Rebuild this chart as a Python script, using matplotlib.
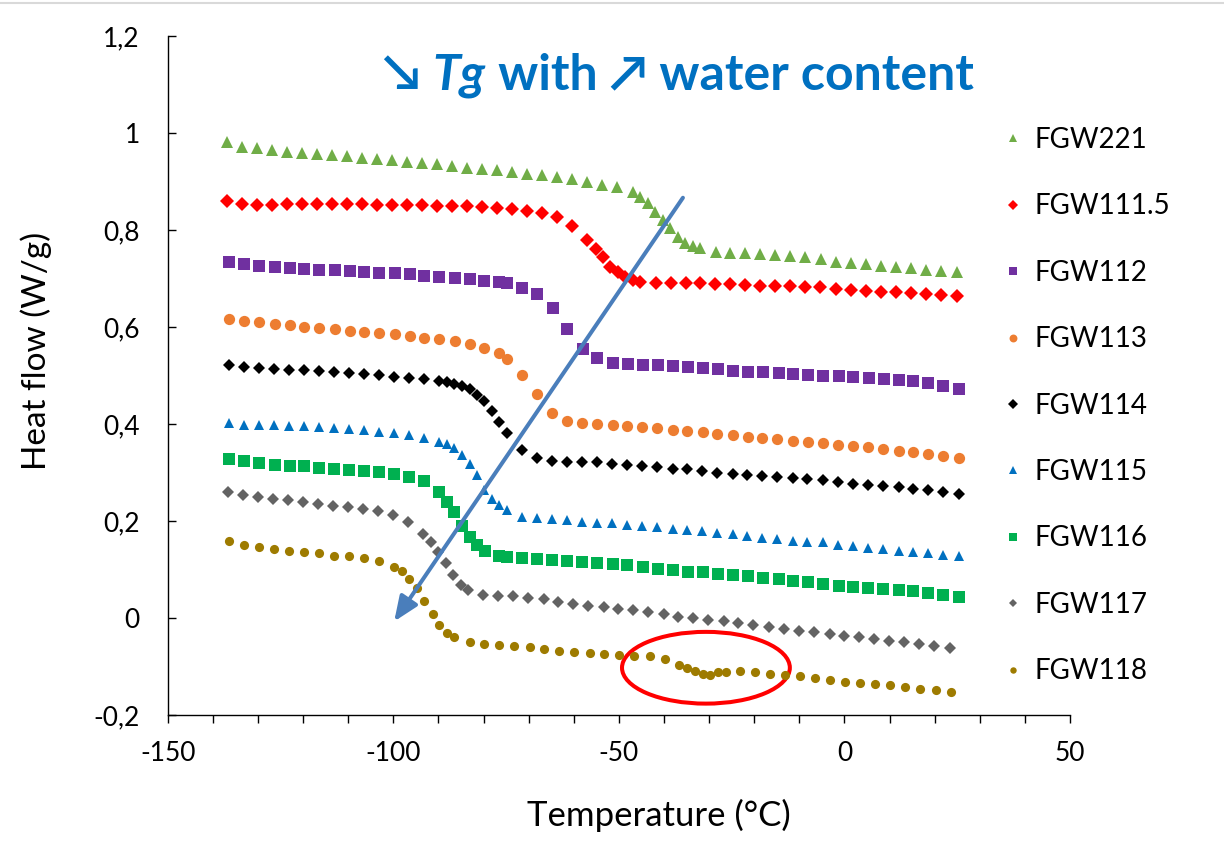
import matplotlib.pyplot as plt
from matplotlib.patches import Ellipse
from matplotlib.lines import Line2D
from matplotlib.ticker import MultipleLocator, FuncFormatter

plt.rcParams['font.family'] = ['Lato', 'DejaVu Sans']

# DSC heat flow (W/g) against temperature (°C) for each sample
t_221 = [-136.9, -133.6, -130.2, -126.9, -123.6, -120.3, -116.9, -113.6, -110.3, -107.0,
         -103.7, -100.3, -97.0, -93.7, -90.4, -87.0, -83.7, -80.4, -77.1, -73.7,
         -70.4, -67.1, -63.8, -60.4, -57.1, -53.8, -50.5,
         -46.9, -45.3, -43.6, -42.0, -40.3, -38.7, -37.0, -35.3, -33.6, -32.0,
         -28.5, -25.3, -22.0, -18.7, -15.3, -12.0, -8.7, -5.2, -1.9, 1.4,
         4.7, 8.1, 11.4, 14.8, 18.1, 21.4, 24.9]
hf_221 = [0.981, 0.972, 0.969, 0.966, 0.962, 0.960, 0.958, 0.955, 0.953, 0.950,
          0.946, 0.944, 0.941, 0.939, 0.936, 0.933, 0.929, 0.926, 0.924, 0.921,
          0.917, 0.914, 0.909, 0.905, 0.899, 0.894, 0.889,
          0.878, 0.868, 0.856, 0.838, 0.821, 0.804, 0.786, 0.774, 0.768, 0.763,
          0.756, 0.754, 0.753, 0.751, 0.748, 0.746, 0.744, 0.740, 0.735, 0.733,
          0.730, 0.727, 0.725, 0.723, 0.718, 0.716, 0.713]

t_1115 = [-136.9, -133.6, -130.2, -126.9, -123.6, -120.3, -116.9, -113.6, -110.3, -107.0,
          -103.7, -100.3, -97.0, -93.7, -90.4, -87.0, -83.7, -80.4, -77.1, -73.7,
          -70.4, -67.1, -63.8, -60.4, -57.1,
          -55.1, -53.6, -51.9, -50.3, -48.6, -46.9, -45.3,
          -41.8, -38.5, -35.2, -32.0, -28.6, -25.3, -22.0, -18.7, -15.4, -12.0,
          -8.7, -5.4, -1.9, 1.4, 4.8, 8.1, 11.4, 14.8, 18.1, 21.4, 24.9]
hf_1115 = [0.861, 0.854, 0.852, 0.852, 0.854, 0.854, 0.854, 0.854, 0.854, 0.854,
           0.852, 0.852, 0.852, 0.852, 0.851, 0.850, 0.849, 0.847, 0.846, 0.844,
           0.840, 0.836, 0.827, 0.809, 0.779,
           0.761, 0.744, 0.725, 0.713, 0.703, 0.698, 0.694,
           0.692, 0.692, 0.692, 0.691, 0.689, 0.689, 0.687, 0.686, 0.686, 0.684,
           0.682, 0.682, 0.679, 0.677, 0.675, 0.673, 0.672, 0.670, 0.669, 0.667, 0.665]

t_112 = [-136.3, -133.0, -129.7, -126.3, -123.0, -119.7, -116.4, -113.0, -109.7, -106.4,
         -103.1, -99.7, -96.4, -93.1, -89.8, -86.4, -83.1, -79.8, -76.5,
         -74.8, -71.4, -68.1, -64.7, -61.4, -58.0, -54.8, -51.4, -48.0, -44.7,
         -41.4, -38.1, -34.7, -31.4, -28.1, -24.8, -21.3, -18.0, -14.6, -11.3,
         -8.0, -4.7, -1.3, 2.0, 5.5, 8.8, 12.0, 15.3, 18.5, 21.9, 25.3]
hf_112 = [0.735, 0.730, 0.727, 0.724, 0.722, 0.720, 0.718, 0.717, 0.715, 0.713,
          0.711, 0.711, 0.709, 0.706, 0.704, 0.702, 0.699, 0.696, 0.693,
          0.691, 0.680, 0.669, 0.640, 0.596, 0.555, 0.537, 0.527, 0.524, 0.522,
          0.521, 0.519, 0.517, 0.515, 0.513, 0.510, 0.508, 0.507, 0.505, 0.504,
          0.502, 0.500, 0.499, 0.498, 0.495, 0.493, 0.491, 0.489, 0.484, 0.478, 0.472]

t_113 = [-136.3, -133.0, -129.7, -126.3, -123.0, -119.7, -116.4, -113.0, -109.7, -106.4,
         -103.1, -99.7, -96.4, -93.1, -89.8, -86.4, -83.1, -79.8, -76.5,
         -74.8, -71.4, -68.2, -64.8, -61.5, -58.2, -54.8, -51.4, -48.1, -44.8,
         -41.5, -38.0, -34.8, -31.4, -28.2, -24.7, -21.4, -18.2, -14.9, -11.3,
         -8.0, -4.7, -1.4, 2.0, 5.3, 8.6, 12.0, 15.3, 18.6, 21.9, 25.3]
hf_113 = [0.616, 0.612, 0.610, 0.607, 0.605, 0.601, 0.598, 0.596, 0.593, 0.591,
          0.589, 0.586, 0.581, 0.577, 0.575, 0.572, 0.566, 0.558, 0.546,
          0.534, 0.502, 0.462, 0.423, 0.407, 0.402, 0.400, 0.399, 0.396, 0.395,
          0.392, 0.388, 0.386, 0.383, 0.380, 0.378, 0.374, 0.372, 0.370, 0.366,
          0.363, 0.361, 0.357, 0.354, 0.352, 0.349, 0.345, 0.342, 0.339, 0.335, 0.331]

t_114 = [-136.4, -133.1, -129.8, -126.4, -123.1, -119.8, -116.5, -113.1, -109.8, -106.5,
         -103.1, -99.8, -96.5, -93.2,
         -89.8, -88.2, -86.5, -84.8, -83.1, -81.5, -79.9, -78.2, -76.5, -74.7,
         -71.5, -68.2, -64.9, -61.5, -58.2, -54.9, -51.6, -48.2, -44.9, -41.5,
         -38.0, -34.8, -31.5, -28.2, -24.8, -21.5, -18.2, -14.9, -11.4, -8.2,
         -4.8, -1.5, 1.9, 5.2, 8.5, 12.0, 15.3, 18.6, 21.9, 25.3]
hf_114 = [0.521, 0.517, 0.515, 0.514, 0.512, 0.511, 0.509, 0.507, 0.505, 0.503,
          0.502, 0.498, 0.496, 0.493,
          0.488, 0.486, 0.483, 0.479, 0.472, 0.460, 0.447, 0.427, 0.405, 0.381,
          0.346, 0.331, 0.323, 0.322, 0.322, 0.321, 0.318, 0.316, 0.314, 0.311,
          0.308, 0.307, 0.304, 0.300, 0.298, 0.295, 0.293, 0.291, 0.289, 0.287,
          0.284, 0.280, 0.277, 0.275, 0.273, 0.270, 0.267, 0.265, 0.260, 0.256]

t_115 = list(t_114)
hf_115 = [0.402, 0.399, 0.399, 0.399, 0.397, 0.396, 0.394, 0.392, 0.390, 0.387,
          0.383, 0.381, 0.377, 0.372,
          0.364, 0.359, 0.351, 0.337, 0.318, 0.295, 0.265, 0.245, 0.234, 0.223,
          0.209, 0.206, 0.204, 0.203, 0.199, 0.197, 0.196, 0.192, 0.189, 0.187,
          0.184, 0.181, 0.179, 0.175, 0.173, 0.170, 0.165, 0.163, 0.159, 0.157,
          0.156, 0.151, 0.148, 0.144, 0.142, 0.139, 0.136, 0.134, 0.131, 0.127]

t_116 = [-136.3, -133.0, -129.7, -126.3, -123.0, -119.8, -116.4, -113.1, -109.8, -106.5,
         -103.2, -99.8, -96.5, -93.2,
         -89.8, -88.2, -86.5, -84.8, -83.1, -81.5, -79.7, -76.5, -74.8,
         -71.4, -68.2, -64.9, -61.4, -58.1, -54.8, -51.4, -48.1, -44.7, -41.4,
         -38.1, -34.7, -31.4, -28.1, -24.7, -21.4, -18.1, -14.6, -11.3, -8.0,
         -4.7, -1.3, 2.0, 5.3, 8.6, 12.0, 15.3, 18.6, 21.9, 25.4]
hf_116 = [0.328, 0.323, 0.320, 0.316, 0.314, 0.313, 0.309, 0.308, 0.306, 0.304,
          0.301, 0.298, 0.292, 0.282,
          0.260, 0.240, 0.218, 0.190, 0.168, 0.151, 0.139, 0.129, 0.125,
          0.124, 0.122, 0.120, 0.118, 0.115, 0.113, 0.112, 0.109, 0.105, 0.102,
          0.100, 0.096, 0.094, 0.091, 0.088, 0.086, 0.082, 0.080, 0.077, 0.074,
          0.071, 0.067, 0.064, 0.062, 0.060, 0.057, 0.055, 0.052, 0.048, 0.043]

t_117 = [-136.6, -133.2, -130.0, -126.6, -123.4, -119.9, -116.6, -113.3, -110.0, -106.6,
         -103.3, -100.0, -96.7, -93.3,
         -91.7, -90.0, -88.4, -86.8, -85.0, -83.4,
         -80.2, -76.7, -73.4, -70.1, -66.7, -63.5, -60.1, -56.8, -53.4, -50.1,
         -46.8, -43.5, -40.1, -36.8, -33.5, -30.2, -26.8, -23.5, -20.2, -16.7,
         -13.4, -10.0, -6.7, -3.3, 0.0, 3.3, 6.6, 9.9, 13.3, 16.6, 19.9, 23.3]
hf_117 = [0.259, 0.254, 0.249, 0.246, 0.243, 0.239, 0.235, 0.232, 0.229, 0.225,
          0.220, 0.213, 0.198, 0.174,
          0.157, 0.137, 0.113, 0.089, 0.069, 0.057,
          0.048, 0.046, 0.045, 0.042, 0.039, 0.034, 0.029, 0.025, 0.022, 0.019,
          0.017, 0.012, 0.008, 0.003, 0.000, -0.004, -0.007, -0.010, -0.014, -0.019,
          -0.022, -0.026, -0.029, -0.033, -0.036, -0.040, -0.043, -0.047, -0.050, -0.054,
          -0.057, -0.062]

t_118 = [-136.4, -133.1, -129.8, -126.4, -123.1, -119.8, -116.4, -113.1, -109.8, -106.5,
         -103.2, -99.8,
         -98.1, -96.5, -94.8, -93.2, -91.3, -89.8, -88.2, -86.5,
         -83.1, -79.8, -76.5, -73.2, -69.8, -66.5, -63.2, -59.9, -56.5, -53.2,
         -49.9, -46.6, -43.2, -39.8,
         -36.6, -35.0, -33.1, -31.4, -29.8, -28.1, -26.3,
         -23.1, -19.8, -16.5, -13.1, -9.8, -6.5, -3.2, 0.2, 3.5, 6.8,
         10.1, 13.5, 16.8, 20.3, 23.6]
hf_118 = [0.158, 0.151, 0.146, 0.143, 0.139, 0.136, 0.134, 0.129, 0.127, 0.124,
          0.117, 0.105,
          0.098, 0.081, 0.062, 0.036, 0.009, -0.015, -0.031, -0.040,
          -0.050, -0.054, -0.055, -0.057, -0.060, -0.064, -0.067, -0.070, -0.072, -0.074,
          -0.076, -0.078, -0.079, -0.084,
          -0.096, -0.103, -0.110, -0.116, -0.117, -0.112, -0.111,
          -0.110, -0.112, -0.115, -0.117, -0.120, -0.124, -0.127, -0.131, -0.134, -0.136,
          -0.139, -0.142, -0.146, -0.149, -0.153]

labels = ["FGW221", "FGW111.5", "FGW112", "FGW113", "FGW114",
          "FGW115", "FGW116", "FGW117", "FGW118"]
temps = [t_221, t_1115, t_112, t_113, t_114, t_115, t_116, t_117, t_118]
flows = [hf_221, hf_1115, hf_112, hf_113, hf_114, hf_115, hf_116, hf_117, hf_118]
markers = ["^", "D", "s", "o", "D", "^", "s", "D", "o"]
colors = ["#70AD47", "#FF0000", "#7030A0", "#ED7D31", "#000000",
          "#0070C0", "#00B050", "#636363", "#9E7B00"]
sizes = [8.6, 7.0, 8.2, 8.1, 6.6, 7.8, 8.0, 6.2, 6.6]

fig = plt.figure(figsize=(12.24, 8.65), dpi=100)
ax = fig.add_axes([0.137, 0.1734, 0.7372, 0.7846])

for t, hf, lab, mk, col, ms in zip(temps, flows, labels, markers, colors, sizes):
    ax.plot(t, hf, ls="none", marker=mk, ms=ms, color=col, mew=0, label=lab)

ax.set_xlim(-150, 50)
ax.set_ylim(-0.2, 1.2)

for side in ["top", "right"]:
    ax.spines[side].set_visible(False)
for side in ["left", "bottom"]:
    ax.spines[side].set_linewidth(1.0)
    ax.spines[side].set_color("black")

ax.xaxis.set_major_locator(MultipleLocator(50))
ax.xaxis.set_minor_locator(MultipleLocator(10))
ax.yaxis.set_major_locator(MultipleLocator(0.2))
ax.xaxis.set_major_formatter(FuncFormatter(lambda v, p: "%d" % round(v)))
ax.yaxis.set_major_formatter(
    FuncFormatter(lambda v, p: f"{v:.1f}".rstrip("0").rstrip(".").replace(".", ",")))
ax.tick_params(axis="x", which="both", direction="out", length=5.5, width=1.0,
               labelsize=19, pad=13)
ax.tick_params(axis="y", which="major", direction="in", length=5.5, width=1.0,
               labelsize=19, pad=20)

ax.set_xlabel("Temperature (°C)", fontsize=25)
ax.set_ylabel("Heat flow (W/g)", fontsize=24)
ax.xaxis.label.set_va("center")
ax.yaxis.label.set_va("center")
ax.xaxis.set_label_coords((659 - 167.7) / 902.3, (715 - 815) / 678.7)
ax.yaxis.set_label_coords((36 - 167.7) / 902.3, (715 - 351) / 678.7)

# Tg shift arrow and the circled small event on FGW118
ax.annotate("", xy=(-99.8, -0.007), xytext=(-35.8, 0.867),
            arrowprops=dict(arrowstyle="-|>,head_length=0.6,head_width=0.25",
                            color="#4A7EBB", lw=2.9, mutation_scale=25,
                            shrinkA=0, shrinkB=0))
ax.add_patch(Ellipse((-30.7, -0.1025), 37.2, 0.148, fill=False,
                     edgecolor="#FF0000", lw=2.9))

ax.legend(loc="upper left", bbox_to_anchor=(999 / 1224, 1 - 127 / 865),
          bbox_transform=fig.transFigure, frameon=False, fontsize=20,
          handlelength=1.0, handletextpad=0.28, labelspacing=1.455,
          markerscale=0.7, borderpad=0, borderaxespad=0)

# headline with mixed styles, laid out piece by piece
pieces = [("↘ ", "normal"), ("Tg", "italic"), (" with ↗ water content", "normal")]
renderer = fig.canvas.get_renderer()
x = 383 / 1224
for text, style in pieces:
    txt = fig.text(x, 1 - 89 / 865, text, fontsize=36, fontweight="bold",
                   fontstyle=style, color="#0070C0", ha="left", va="baseline")
    bb = txt.get_window_extent(renderer)
    x = bb.x1 / fig.bbox.width

fig.add_artist(Line2D([0, 1], [0.997, 0.997], transform=fig.transFigure,
                      color="#D9D9D9", lw=1.5))

fig.savefig("out.png", dpi=100)
